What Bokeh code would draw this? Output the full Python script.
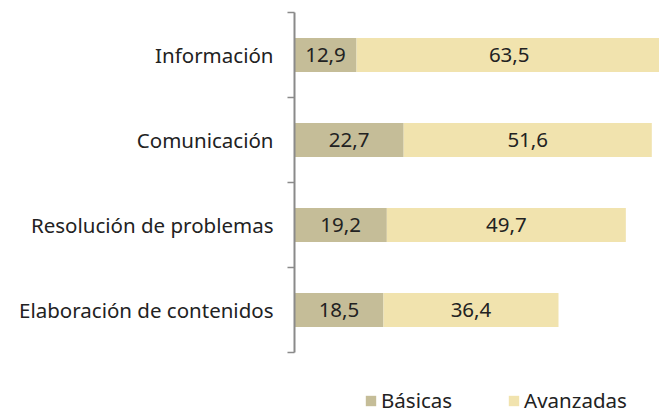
from bokeh.plotting import figure
from bokeh.layouts import column
from bokeh.models import (ColumnDataSource, LabelSet, Legend, LegendItem, CategoricalAxis,
                          Range1d, FactorRange, CategoricalScale)
from bokeh.core.properties import value
from bokeh.embed import file_html
from bokeh.resources import INLINE

categories = ["Información", "Comunicación", "Resolución de problemas", "Elaboración de contenidos"]
basicas = [12.9, 22.7, 19.2, 18.5]
avanzadas = [63.5, 51.6, 49.7, 36.4]
series_names = ["Básicas", "Avanzadas"]
colors = ["#c5bd98", "#f1e3ae"]

FONT = "Noto Sans"
FS = "20.5px"
TXT = "#222222"
AXC = "#8a8a8a"

def fmt(v):
    return f"{v:.1f}".replace(".", ",")

src = ColumnDataSource(dict(
    cat=categories,
    **{series_names[0]: basicas, series_names[1]: avanzadas},
))

factors = categories[::-1]
p = figure(width=659, height=354,
           y_range=FactorRange(factors=factors),
           x_range=Range1d(0, 75.9),
           output_backend="svg", toolbar_location=None,
           x_axis_location=None, y_axis_location=None,
           min_border_left=294, min_border_right=0,
           min_border_top=12, min_border_bottom=2)
p.outline_line_color = None
p.xgrid.visible = False
p.ygrid.visible = False
p.background_fill_color = "white"
p.border_fill_color = "white"

renderers = p.hbar_stack(series_names, y="cat", height=0.4, color=colors,
                         line_color=None, source=src)

# value labels
lab_src = ColumnDataSource(dict(
    cat=categories + categories,
    x=[b / 2 for b in basicas] + [b + a / 2 for b, a in zip(basicas, avanzadas)],
    txt=[fmt(v) for v in basicas] + [fmt(v) for v in avanzadas],
))
labels = LabelSet(x="x", y="cat", text="txt", source=lab_src,
                  text_align="center", text_baseline="middle",
                  text_font=value(FONT), text_font_size=value(FS), text_color=TXT)
p.add_layout(labels)

# boundary tick axis: a categorical range whose factor centres fall on the band edges
bounds = [f"b{i}" for i in range(len(categories) + 1)]
p.extra_y_ranges = {"bounds": FactorRange(factors=bounds, range_padding=-0.499,
                                          range_padding_units="absolute")}
p.extra_y_scales = {"bounds": CategoricalScale()}
tick_axis = CategoricalAxis(y_range_name="bounds",
                            major_tick_out=7, major_tick_in=0,
                            major_label_text_font_size="0px", major_label_standoff=0,
                            axis_line_color=AXC, axis_line_width=2,
                            major_tick_line_color=AXC, major_tick_line_width=1.5)
p.add_layout(tick_axis, "left")

cat_axis = CategoricalAxis(major_tick_line_color=None, axis_line_color=None,
                           major_label_standoff=8,
                           major_label_text_font=FONT, major_label_text_font_size=FS,
                           major_label_text_color=TXT)
p.add_layout(cat_axis, "left")

# legend strip (separate canvas below the chart so the legend is not clipped)
pl = figure(width=659, height=57,
            y_range=FactorRange(factors=factors), x_range=Range1d(0, 75.9),
            output_backend="svg", toolbar_location=None,
            x_axis_location=None, y_axis_location=None,
            min_border_left=0, min_border_right=0, min_border_top=0, min_border_bottom=0)
pl.outline_line_color = None
pl.xgrid.visible = False
pl.ygrid.visible = False
leg_renderers = pl.hbar_stack(series_names, y="cat", height=0.4, color=colors,
                              line_color=None, source=src)
for r in leg_renderers:
    r.visible = False

legend = Legend(items=[LegendItem(label=n, renderers=[r]) for n, r in zip(series_names, leg_renderers)],
                orientation="horizontal", location=(70, -3),
                padding=0, margin=0, border_line_color=None, background_fill_alpha=0,
                glyph_width=13, glyph_height=13, label_standoff=4, spacing=55,
                label_text_font=FONT, label_text_font_size=FS, label_text_color=TXT)
pl.add_layout(legend, "center")

layout = column(p, pl, spacing=0)
open("out.html", "w").write(file_html(layout, INLINE))
